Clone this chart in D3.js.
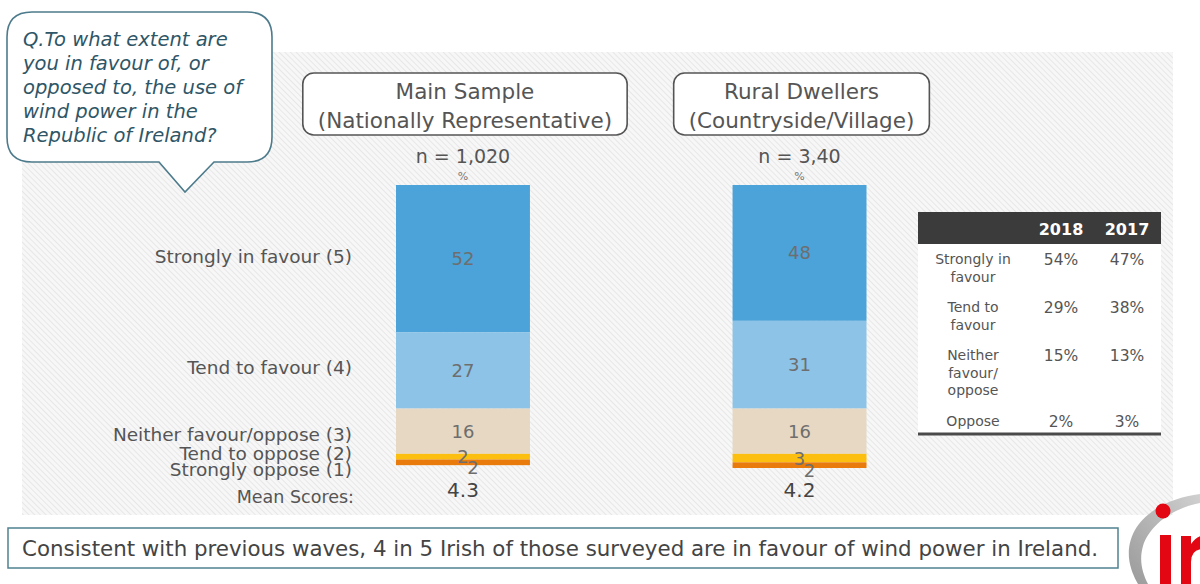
<!DOCTYPE html>
<html>
<head>
<meta charset="utf-8">
<script src="https://cdn.jsdelivr.net/npm/d3@7"></script>
<style>
  html, body { margin: 0; padding: 0; background: #fff; }
  svg { display: block; font-family: "DejaVu Sans", sans-serif; }
</style>
</head>
<body>
<div id="chart"></div>
<script>
// Categorias de respuesta (de arriba a abajo en la barra)
const categories = ["Strongly in favour (5)", "Tend to favour (4)", "Neither favour/oppose (3)", "Tend to oppose (2)", "Strongly oppose (1)"];
const samples = ["Main Sample", "Rural Dwellers"];
const sampleSubtitles = ["(Nationally Representative)", "(Countryside/Village)"];
const sampleSizes = ["n = 1,020", "n = 3,40"];
const mainValues = [52, 27, 16, 2, 2];
const ruralValues = [48, 31, 16, 3, 2];
const meanScores = [4.3, 4.2];

// Tabla de comparacion
const tableYears = ["2018", "2017"];
const tableRows = [["Strongly in", "favour"], ["Tend to", "favour"], ["Neither", "favour/", "oppose"], ["Oppose"]];
const values2018 = [54, 29, 15, 2];
const values2017 = [47, 38, 13, 3];

const questionLines = ["Q.To what extent are", "you in favour of, or", "opposed to, the use of", "wind power in the", "Republic of Ireland?"];
const footnote = "Consistent with previous waves, 4 in 5 Irish of those surveyed are in favour of wind power in Ireland.";

const colors = ["#4ba3d9", "#8cc3e6", "#e6d8c2", "#fdbf0f", "#e97a0c"];

function draw() {
    const width = 1200, height = 584;
    const svg = d3.select("#chart").append("svg")
        .attr("width", width)
        .attr("height", height);

    // Fondo rayado
    const defs = svg.append("defs");
    const pat = defs.append("pattern")
        .attr("id", "hatch")
        .attr("patternUnits", "userSpaceOnUse")
        .attr("width", 4).attr("height", 4)
        .attr("patternTransform", "rotate(-45)");
    pat.append("rect").attr("width", 4).attr("height", 4).attr("fill", "#f7f7f7");
    pat.append("line").attr("x1", 0).attr("y1", 0).attr("x2", 0).attr("y2", 4)
        .attr("stroke", "#e4e4e4").attr("stroke-width", 1.6);

    svg.append("rect")
        .attr("x", 22).attr("y", 52)
        .attr("width", 1151).attr("height", 463)
        .attr("fill", "url(#hatch)");

    // Burbuja de la pregunta
    svg.append("path")
        .attr("d", "M32 12 H247 Q272 12 272 37 V137 Q272 162 247 162 H214 L185 192 L159 162 H32 Q7 162 7 137 V37 Q7 12 32 12 Z")
        .attr("fill", "#fff")
        .attr("stroke", "#4d7b8c")
        .attr("stroke-width", 1.6);

    svg.append("g").selectAll("text")
        .data(questionLines)
        .enter().append("text")
        .attr("x", 23)
        .attr("y", (d, i) => 46 + i * 24)
        .attr("font-size", 19.5)
        .attr("font-style", "italic")
        .attr("fill", "#2f5667")
        .text(d => d);

    // Escalas
    const x = d3.scaleBand()
        .domain(samples)
        .range([396, 866.5])
        .paddingInner(0.602);

    const y = d3.scaleLinear()
        .domain([0, 100])
        .range([185, 468]);

    const series = [mainValues, ruralValues];

    samples.forEach((s, si) => {
        const vals = series[si];
        let acc = 0;
        const segs = vals.map((v, i) => {
            const seg = { cat: categories[i], v: v, y0: acc, y1: acc + v, i: i };
            acc += v;
            return seg;
        });

        const g = svg.append("g");

        g.selectAll("rect")
            .data(segs)
            .enter().append("rect")
            .attr("x", x(s))
            .attr("width", x.bandwidth())
            .attr("y", d => y(d.y0))
            .attr("height", d => y(d.y1) - y(d.y0))
            .attr("fill", d => colors[d.i]);

        // Etiquetas de valores
        g.selectAll("text.val")
            .data(segs)
            .enter().append("text")
            .attr("class", "val")
            .attr("x", d => x(s) + x.bandwidth() / 2 + (d.i === 4 ? 10 : 0))
            .attr("y", d => (y(d.y0) + y(d.y1)) / 2 + (d.i === 4 ? 5 : 0))
            .attr("dy", "0.36em")
            .attr("text-anchor", "middle")
            .attr("font-size", 18)
            .attr("fill", "#6e6e6e")
            .text(d => d.v);

        // Cabecera con caja redondeada
        const cx = x(s) + x.bandwidth() / 2;
        const head = svg.append("g");
        const t1 = head.append("text")
            .attr("x", cx + 2).attr("y", 99)
            .attr("text-anchor", "middle")
            .attr("font-size", 21.5)
            .attr("fill", "#555")
            .text(s);
        const t2 = head.append("text")
            .attr("x", cx + 2).attr("y", 128)
            .attr("text-anchor", "middle")
            .attr("font-size", 21.5)
            .attr("fill", "#555")
            .text(sampleSubtitles[si]);
        const w = Math.max(t1.node().getComputedTextLength(), t2.node().getComputedTextLength()) + 30;
        head.insert("rect", "text")
            .attr("x", cx + 2 - w / 2).attr("y", 73)
            .attr("width", w).attr("height", 62)
            .attr("rx", 11)
            .attr("fill", "#fff")
            .attr("stroke", "#555")
            .attr("stroke-width", 1.6);

        svg.append("text")
            .attr("x", cx).attr("y", 163)
            .attr("text-anchor", "middle")
            .attr("font-size", 19)
            .attr("fill", "#555")
            .text(sampleSizes[si]);

        svg.append("text")
            .attr("x", cx).attr("y", 180)
            .attr("text-anchor", "middle")
            .attr("font-size", 11)
            .attr("fill", "#777")
            .text("%");

        svg.append("text")
            .attr("x", cx).attr("y", 497)
            .attr("text-anchor", "middle")
            .attr("font-size", 20)
            .attr("fill", "#444")
            .text(meanScores[si].toFixed(1));
    });

    // Etiquetas de categorias (alineadas con la barra principal)
    let acc = 0;
    const catPos = mainValues.map((v, i) => {
        const mid = acc + v / 2;
        acc += v;
        return { cat: categories[i], mid: mid, i: i };
    });
    const nudge = [-2, -3, 3, -3, 7];
    svg.append("g").selectAll("text")
        .data(catPos)
        .enter().append("text")
        .attr("x", 352)
        .attr("y", d => y(d.mid) + nudge[d.i])
        .attr("dy", "0.36em")
        .attr("text-anchor", "end")
        .attr("font-size", 18.5)
        .attr("fill", "#555")
        .text(d => d.cat);

    svg.append("text")
        .attr("x", 354).attr("y", 503)
        .attr("text-anchor", "end")
        .attr("font-size", 17.5)
        .attr("fill", "#555")
        .text("Mean Scores:");

    // Tabla
    const tx = 918, tw = 243;
    const colX = [1061, 1127];
    const tg = svg.append("g");
    tg.append("rect").attr("x", tx).attr("y", 212).attr("width", tw).attr("height", 222).attr("fill", "#fff");
    tg.append("rect").attr("x", tx).attr("y", 212).attr("width", tw).attr("height", 32).attr("fill", "#3b3b3b");
    tg.append("line").attr("x1", tx).attr("x2", tx + tw).attr("y1", 434).attr("y2", 434)
        .attr("stroke", "#4a4a4a").attr("stroke-width", 3);

    tg.selectAll("text.year")
        .data(tableYears)
        .enter().append("text")
        .attr("class", "year")
        .attr("x", (d, i) => colX[i]).attr("y", 235)
        .attr("text-anchor", "middle")
        .attr("font-size", 16)
        .attr("font-weight", "bold")
        .attr("fill", "#fff")
        .text(d => d);

    let by = 264;
    tableRows.forEach((lines, r) => {
        lines.forEach((ln, k) => {
            tg.append("text")
                .attr("x", 973).attr("y", by + k * 17.5)
                .attr("text-anchor", "middle")
                .attr("font-size", 14)
                .attr("fill", "#555")
                .text(ln);
        });
        [values2018[r], values2017[r]].forEach((v, c) => {
            tg.append("text")
                .attr("x", colX[c]).attr("y", by + 1)
                .attr("text-anchor", "middle")
                .attr("font-size", 15.5)
                .attr("fill", "#555")
                .text(v + "%");
        });
        by += lines.length * 17.5 + 13;
    });

    // Nota inferior
    svg.append("rect")
        .attr("x", 8).attr("y", 528)
        .attr("width", 1110).attr("height", 40)
        .attr("fill", "#fff")
        .attr("stroke", "#4f8290")
        .attr("stroke-width", 1.5);
    svg.append("text")
        .attr("x", 22).attr("y", 556)
        .attr("font-size", 21)
        .attr("fill", "#444")
        .attr("textLength", 1076)
        .attr("lengthAdjust", "spacingAndGlyphs")
        .style("font-family", "'DejaVu Sans Condensed', 'Liberation Sans Narrow', 'Liberation Sans', sans-serif")
        .text(footnote);

    // Logo
    const lg = svg.append("g");
    const grad = defs.append("linearGradient").attr("id", "swoosh").attr("x1", 0).attr("y1", 1).attr("x2", 1).attr("y2", 0);
    grad.append("stop").attr("offset", 0).attr("stop-color", "#9a9a9a");
    grad.append("stop").attr("offset", 1).attr("stop-color", "#d0d0d0");
    lg.append("path")
        .attr("d", "M1200 494 C1160 499 1126 522 1129 558 C1130 568 1134 577 1138 584 L1148 584 C1142 572 1139 560 1143 546 C1150 524 1174 508 1200 503 Z")
        .attr("fill", "url(#swoosh)");
    lg.append("circle").attr("cx", 1163).attr("cy", 511).attr("r", 7.5).attr("fill", "#e30613");
    lg.append("rect").attr("x", 1160).attr("y", 535).attr("width", 11).attr("height", 49).attr("fill", "#e30613");
    lg.append("path")
        .attr("d", "M1181 584 V536 H1191 V544 Q1197 535 1206 535 V549 Q1191 548 1191 562 V584 Z")
        .attr("fill", "#e30613");
}

draw();
</script>
</body>
</html>
